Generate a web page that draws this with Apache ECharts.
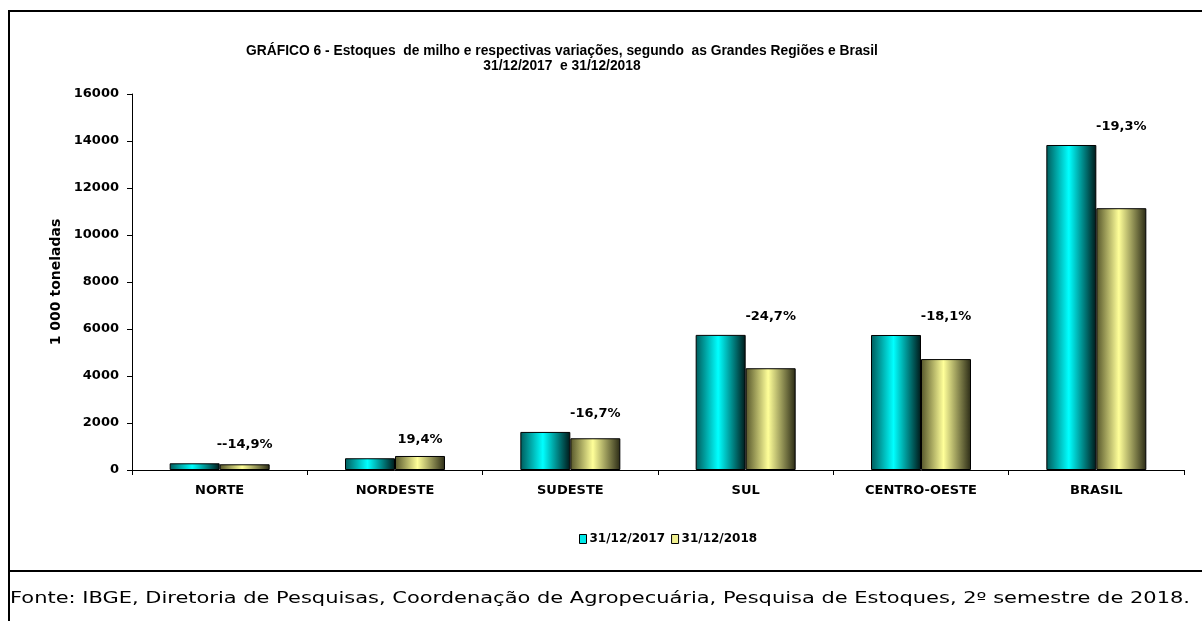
<!DOCTYPE html>
<html>
<head>
<meta charset="utf-8">
<script src="https://cdn.jsdelivr.net/npm/echarts@6/dist/echarts.min.js"></script>
<style>
html, body { margin: 0; padding: 0; background: #fff; }
#chart { width: 1202px; height: 621px; }
</style>
</head>
<body>
<div id="chart"></div>
<script>
// dados (1 000 toneladas)
const regioes = ['NORTE', 'NORDESTE', 'SUDESTE', 'SUL', 'CENTRO-OESTE', 'BRASIL'];
const estoque2017 = [285, 500, 1620, 5750, 5745, 13830];
const estoque2018 = [243, 597, 1350, 4330, 4720, 11140];
const variacoes = ['--14,9%', '19,4%', '-16,7%', '-24,7%', '-18,1%', '-19,3%'];
const series2017 = '31/12/2017';
const series2018 = '31/12/2018';

const boldFont = 'DejaVu Sans';

// gradiente horizontal (efeito cilindro)
function barGradient(edgeL, mid, edgeR) {
  return new echarts.graphic.LinearGradient(0, 0, 1, 0, [
    { offset: 0, color: edgeL },
    { offset: 0.45, color: mid },
    { offset: 1, color: edgeR }
  ]);
}

const myChart = echarts.init(document.getElementById('chart'));
myChart.setOption({
  animation: false,
  backgroundColor: '#fff',
  title: {
    text: 'GRÁFICO 6 - Estoques  de milho e respectivas variações, segundo  as Grandes Regiões e Brasil\n31/12/2017  e 31/12/2018',
    left: 557,
    top: 39,
    textAlign: 'center',
    textStyle: {
      fontFamily: 'Liberation Sans',
      fontWeight: 'bold',
      fontSize: 13.8,
      lineHeight: 15,
      color: '#000'
    }
  },
  legend: {
    left: 574,
    top: 528,
    itemWidth: 7,
    itemHeight: 9,
    itemGap: 6,
    icon: 'rect',
    textStyle: { fontFamily: boldFont, fontWeight: 'bold', fontSize: 12, color: '#000', padding: [0, 0, 0, -2] },
    data: [
      { name: series2017, itemStyle: { color: '#00e8e8', borderColor: '#000', borderWidth: 1 } },
      { name: series2018, itemStyle: { color: '#f0f090', borderColor: '#000', borderWidth: 1 } }
    ]
  },
  grid: {
    left: 132,
    right: 18,
    top: 94,
    bottom: 151
  },
  xAxis: {
    type: 'category',
    data: regioes,
    axisLine: { lineStyle: { color: '#000', width: 1 } },
    axisTick: { show: true, length: 5, lineStyle: { color: '#000' } },
    axisLabel: {
      margin: 14,
      fontFamily: boldFont,
      fontWeight: 'bold',
      fontSize: 13,
      color: '#000'
    }
  },
  yAxis: {
    type: 'value',
    min: 0,
    max: 16000,
    interval: 2000,
    name: '1 000 toneladas',
    nameLocation: 'middle',
    nameRotate: 90,
    nameGap: 69,
    nameTextStyle: { fontFamily: boldFont, fontWeight: 'bold', fontSize: 14, color: '#000' },
    axisLine: { show: true, lineStyle: { color: '#000', width: 1 } },
    axisTick: { show: true, length: 5, lineStyle: { color: '#000' } },
    splitLine: { show: false },
    axisLabel: {
      margin: 13,
      fontFamily: boldFont,
      fontWeight: 'bold',
      fontSize: 13,
      color: '#000',
      formatter: v => String(v)
    }
  },
  series: [
    {
      name: series2017,
      type: 'bar',
      barWidth: 50,
      barGap: '0%',
      data: estoque2017,
      itemStyle: {
        color: barGradient('#005a5a', '#00ffff', '#001818'),
        borderColor: '#000',
        borderWidth: 1
      },
      label: {
        show: true,
        position: 'top',
        offset: [50, -7],
        fontFamily: boldFont,
        fontWeight: 'bold',
        fontSize: 13,
        color: '#000',
        formatter: p => variacoes[p.dataIndex]
      }
    },
    {
      name: series2018,
      type: 'bar',
      barWidth: 50,
      data: estoque2018,
      itemStyle: {
        color: barGradient('#55552a', '#ffff99', '#2a2a15'),
        borderColor: '#000',
        borderWidth: 1
      }
    }
  ],
  graphic: [
    {
      type: 'rect',
      shape: { x: 9, y: 11, width: 1300, height: 700 },
      style: { fill: null, stroke: '#000', lineWidth: 2 },
      silent: true
    },
    {
      type: 'line',
      shape: { x1: 9, y1: 571, x2: 1202, y2: 571 },
      style: { stroke: '#000', lineWidth: 2 },
      silent: true
    },
    {
      // fonte esticada na horizontal como no original
      type: 'text',
      x: 10,
      y: 599,
      scaleX: 1.31,
      style: {
        text: 'Fonte: IBGE, Diretoria de Pesquisas, Coordenação de Agropecuária, Pesquisa de Estoques, 2º semestre de 2018.',
        fontFamily: 'DejaVu Sans',
        fontSize: 16,
        fill: '#000',
        verticalAlign: 'middle'
      }
    }
  ]
});
</script>
</body>
</html>
